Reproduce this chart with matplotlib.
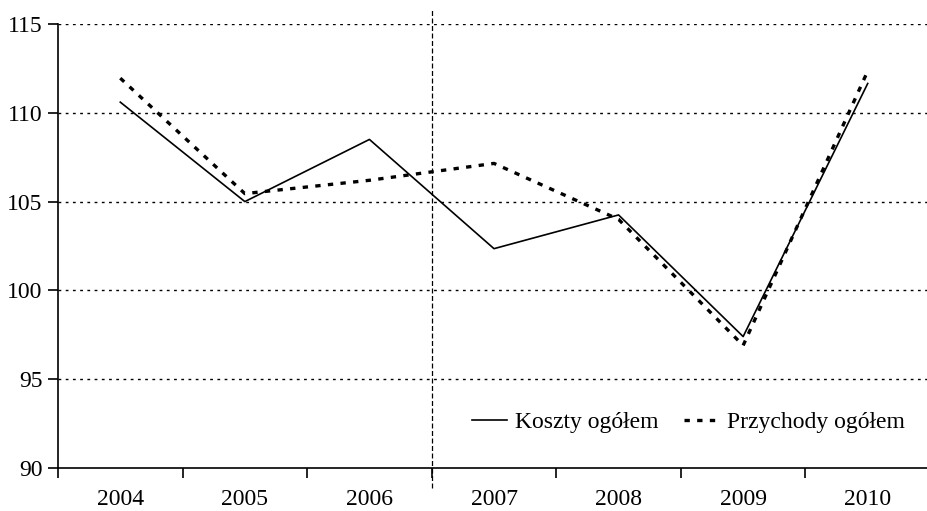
import matplotlib.pyplot as plt

plt.rcParams['font.family'] = ['Liberation Serif', 'DejaVu Serif']

years = ['2004', '2005', '2006', '2007', '2008', '2009', '2010']
koszty = [110.6, 105.0, 108.5, 102.35, 104.25, 97.4, 111.65]
przychody = [111.95, 105.45, 106.2, 107.15, 104.0, 96.9, 112.35]

fig = plt.figure(figsize=(9.27, 5.11), dpi=100)
ax = fig.add_axes([58 / 927, 1 - 468 / 511, 872 / 927, 444 / 511])

x = range(len(years))
ax.plot(x, koszty, color='black', lw=1.2, label='Koszty ogółem')
ax.plot(x, przychody, color='black', lw=2.4, linestyle=(0, (1.6, 2.2)),
        label='Przychody ogółem')

ax.set_xlim(-0.5, 6.5)
ax.set_ylim(90, 115)
ax.set_yticks([90, 95, 100, 105, 110, 115])
ax.set_xticks([i - 0.5 for i in range(7)])
ax.set_xticklabels([])
ax.set_xticks(list(x), minor=True)
ax.set_xticklabels(years, minor=True)
ax.tick_params(axis='x', which='minor', length=0, pad=15, labelsize=17)
ax.tick_params(axis='x', which='major', length=7, width=1.2, direction='out')
ax.tick_params(axis='y', length=7, width=1.2, direction='out', labelsize=17, pad=4)

for v in [95, 100, 105, 110, 115]:
    ax.axhline(v, color='black', lw=1, linestyle=(0, (2, 3.2)), zorder=0)

ax.plot([2.5, 2.5], [88.9, 115.8], color='black', lw=0.9,
        linestyle=(0, (4, 2)), clip_on=False)

for s in ['top', 'right']:
    ax.spines[s].set_visible(False)
ax.spines['left'].set_linewidth(1.2)
ax.spines['bottom'].set_linewidth(1.2)

ax.legend(loc='lower right', bbox_to_anchor=(0.995, 0.03), ncol=2, frameon=False,
          fontsize=17, handlelength=1.5, handletextpad=0.3, columnspacing=1.1)

fig.savefig('out.png', dpi=100)
